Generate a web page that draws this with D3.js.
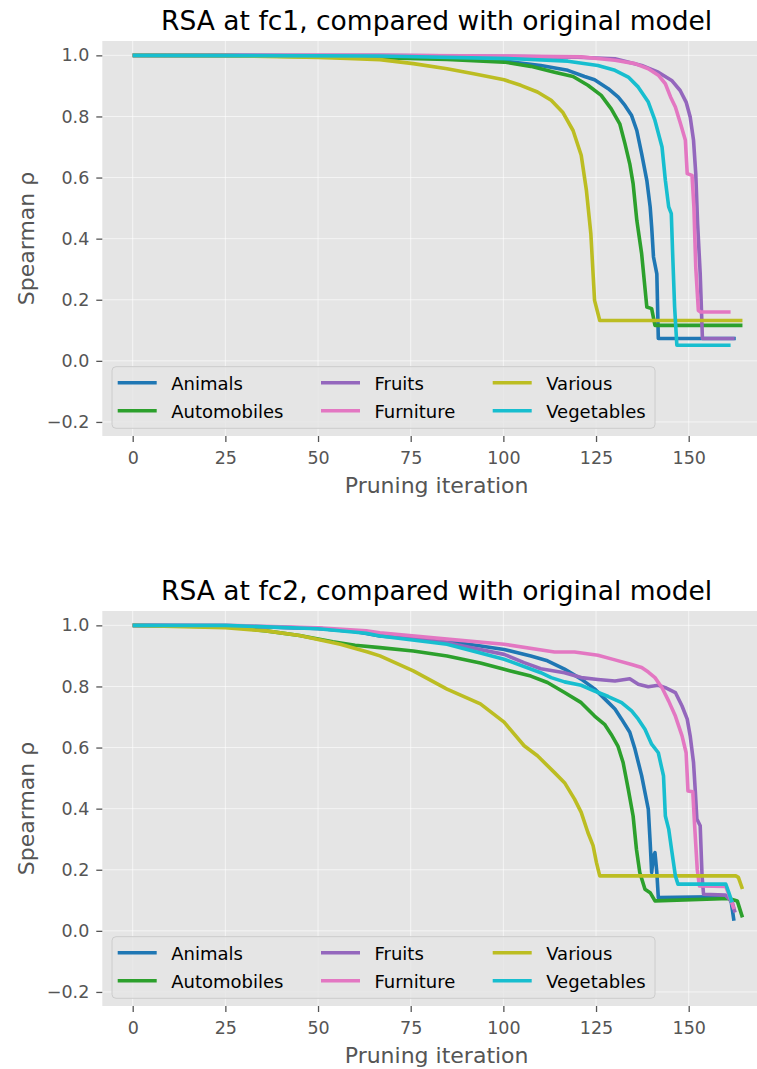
<!DOCTYPE html>
<html>
<head>
<meta charset="utf-8">
<script src="https://cdn.jsdelivr.net/npm/d3@7"></script>
<style>
  body { margin: 0; background: #fff; }
  svg { display: block; font-family: "DejaVu Sans", sans-serif; }
</style>
</head>
<body>
<svg id="chart" width="757" height="1069"></svg>
<script>
// series names, in plotting order (same as legend order)
var categories = ["Animals", "Automobiles", "Fruits", "Furniture", "Various", "Vegetables"];
var colors = ["#1f77b4", "#2ca02c", "#9467bd", "#e377c2", "#bcbd22", "#17becf"];
var xTicks = [0, 25, 50, 75, 100, 125, 150];
var yTicks = [-0.2, 0, 0.2, 0.4, 0.6, 0.8, 1.0];

// fc1: [pruning iteration, spearman rho]
var fc1Animals = [[0,1],[25,1],[50,0.998],[66.7,0.995],[85,0.99],[100.2,0.981],[110.1,0.967],[117.4,0.951],[121.9,0.931],[124.6,0.92],[128.3,0.891],[131,0.863],[132.8,0.836],[134.6,0.803],[136,0.754],[137.3,0.678],[138.7,0.591],[139.6,0.504],[140,0.439],[140.5,0.34],[141.4,0.285],[141.8,0.073],[162.7,0.073]];
var fc1Automobiles = [[0,1],[25,0.999],[50,0.996],[66.7,0.992],[84.8,0.987],[100.2,0.978],[107.4,0.964],[113.8,0.945],[118.8,0.931],[122.8,0.902],[126.4,0.869],[129.1,0.825],[131.4,0.776],[132.8,0.711],[134.1,0.645],[135,0.58],[136,0.46],[137.3,0.351],[138.7,0.176],[140,0.171],[140.9,0.116],[164.5,0.116]];
var fc1Fruits = [[0,1],[66.7,1],[100,0.997],[120,0.994],[130.1,0.989],[137.3,0.967],[141.8,0.945],[145.4,0.918],[147.7,0.885],[149.3,0.847],[150.4,0.798],[151.3,0.722],[151.9,0.613],[152.4,0.449],[153.1,0.285],[153.7,0.073],[162.4,0.073]];
var fc1Furniture = [[0,1],[66.7,1],[100,0.998],[121,0.995],[130.1,0.984],[135.5,0.973],[139.1,0.956],[141.8,0.935],[143.7,0.907],[145.1,0.864],[146.4,0.831],[147.8,0.776],[149.1,0.722],[149.6,0.613],[150.9,0.607],[151.4,0.504],[151.9,0.307],[152.6,0.165],[153.2,0.16],[161.3,0.16]];
var fc1Various = [[0,1],[25,0.999],[40,0.996],[50,0.993],[58,0.99],[66.7,0.986],[75.7,0.973],[84.8,0.956],[92,0.94],[100.2,0.92],[104.7,0.902],[109.2,0.88],[112.9,0.853],[116,0.814],[118.8,0.754],[121,0.673],[122.4,0.558],[123.6,0.416],[124.6,0.198],[126,0.132],[164.5,0.132]];
var fc1Vegetables = [[0,1],[66.7,0.998],[102.9,0.989],[117.4,0.981],[125.5,0.967],[130.1,0.951],[133.7,0.929],[136.4,0.896],[139.1,0.847],[140.9,0.787],[142.8,0.7],[143.7,0.591],[144.6,0.504],[145.3,0.482],[145.7,0.34],[146.2,0.176],[146.8,0.051],[161.3,0.051]];

// fc2
var fc2Animals = [[0,1],[25,0.998],[50,0.99],[60,0.98],[66.7,0.965],[84.8,0.949],[100.2,0.921],[107.4,0.9],[111.9,0.884],[116.5,0.857],[121,0.824],[124.6,0.792],[128.3,0.748],[130.1,0.726],[131.9,0.693],[134.1,0.65],[135.5,0.595],[137.3,0.508],[139.1,0.398],[139.6,0.29],[140,0.191],[140.5,0.245],[140.9,0.256],[141.4,0.191],[141.8,0.109],[160.8,0.112],[161.5,0.092],[162.2,0.033]];
var fc2Automobiles = [[0,1],[25,0.996],[36,0.982],[45,0.967],[54,0.946],[60,0.935],[66.7,0.927],[75.7,0.916],[84.8,0.9],[93.8,0.877],[100.2,0.856],[107.4,0.834],[111.9,0.813],[116.5,0.78],[121,0.747],[124.6,0.703],[127.3,0.676],[129.1,0.643],[130.9,0.605],[132.3,0.551],[133.7,0.463],[135,0.376],[135.9,0.267],[136.8,0.191],[138.2,0.136],[139.6,0.125],[140.9,0.098],[160.8,0.106],[163.1,0.098],[164.5,0.044]];
var fc2Fruits = [[0,1],[25,0.999],[50,0.99],[60,0.98],[66.7,0.971],[84.8,0.943],[100.2,0.905],[105.6,0.878],[110.1,0.858],[116.5,0.845],[121,0.829],[125.5,0.823],[130.1,0.818],[134.1,0.825],[136.4,0.807],[139.1,0.799],[141.8,0.804],[143.7,0.796],[146.4,0.78],[148.2,0.736],[149.6,0.693],[150.4,0.638],[151.3,0.551],[151.8,0.453],[152.2,0.366],[153.1,0.344],[153.6,0.18],[154,0.12],[159.9,0.117],[161.7,0.095],[162.5,0.06]];
var fc2Furniture = [[0,1],[25,1],[50,0.992],[63,0.982],[66.7,0.976],[84.8,0.955],[100.2,0.938],[113.8,0.913],[119.2,0.913],[125.5,0.902],[130.1,0.887],[134.6,0.872],[137.3,0.862],[139.1,0.847],[140.9,0.829],[142.8,0.796],[144.6,0.752],[146.4,0.703],[148.2,0.638],[149.3,0.583],[149.8,0.458],[151.1,0.455],[151.6,0.344],[152.3,0.202],[152.9,0.147],[160,0.145],[161.3,0.104],[162.2,0.071]];
var fc2Various = [[0,1],[25,0.992],[36,0.982],[45,0.967],[50,0.954],[56,0.938],[63.4,0.913],[66.7,0.9],[75.7,0.851],[84.8,0.791],[93.8,0.743],[100.2,0.683],[105.6,0.606],[109.2,0.573],[113.8,0.518],[116.5,0.485],[119.2,0.431],[121,0.388],[122.8,0.322],[124.2,0.279],[125.1,0.224],[126,0.18],[162.7,0.18],[163.4,0.175],[164.5,0.137]];
var fc2Vegetables = [[0,1],[25,1],[50,0.989],[63,0.974],[66.7,0.965],[84.8,0.938],[100.2,0.889],[110.1,0.845],[112.9,0.829],[116.5,0.815],[121,0.804],[124.6,0.785],[128.3,0.767],[131.9,0.747],[134.6,0.72],[136.4,0.693],[138.2,0.66],[140,0.611],[141.8,0.583],[143.2,0.507],[143.7,0.376],[144.6,0.333],[145.5,0.256],[146.4,0.18],[147.1,0.153],[160,0.153],[160.8,0.126],[161.7,0.093]];

var panels = [
  {title: "RSA at fc1, compared with original model", top: 0,
   series: [fc1Animals, fc1Automobiles, fc1Fruits, fc1Furniture, fc1Various, fc1Vegetables]},
  {title: "RSA at fc2, compared with original model", top: 570,
   series: [fc2Animals, fc2Automobiles, fc2Fruits, fc2Furniture, fc2Various, fc2Vegetables]}
];

var svg = d3.select("#chart");
// the figure is a bit wider than the picture, the right side is cut off
var left = 102.3, right = 771, plotTop = 41, plotBottom = 436;

var x = d3.scaleLinear().domain([-8.2, 172.2]).range([left, right]);
var y = d3.scaleLinear().domain([-0.246, 1.047]).range([plotBottom, plotTop]);

var line = d3.line().x(function(d){ return x(d[0]); }).y(function(d){ return y(d[1]); });

panels.forEach(function(p) {
  var g = svg.append("g").attr("transform", "translate(0," + p.top + ")");

  g.append("rect").attr("x", left).attr("y", plotTop)
    .attr("width", right - left).attr("height", plotBottom - plotTop)
    .attr("fill", "#e5e5e5");

  // grid
  g.selectAll(".vgrid").data(xTicks).enter().append("line")
    .attr("x1", x).attr("x2", x).attr("y1", plotTop).attr("y2", plotBottom)
    .attr("stroke", "#fff").attr("stroke-width", 1).attr("stroke-opacity", 0.6);
  g.selectAll(".hgrid").data(yTicks).enter().append("line")
    .attr("y1", y).attr("y2", y).attr("x1", left).attr("x2", right)
    .attr("stroke", "#fff").attr("stroke-width", 1).attr("stroke-opacity", 0.6);

  // axes
  var xa = g.append("g").attr("transform", "translate(0," + plotBottom + ")")
    .call(d3.axisBottom(x).tickValues(xTicks).tickSize(6).tickPadding(10));
  var ya = g.append("g").attr("transform", "translate(" + left + ",0)")
    .call(d3.axisLeft(y).tickValues(yTicks).tickSize(6).tickPadding(7).tickFormat(d3.format(".1f")));
  [xa, ya].forEach(function(a) {
    a.select(".domain").remove();
    a.selectAll("line").attr("stroke", "#555").attr("stroke-width", 1.3);
    a.selectAll("text").attr("fill", "#555").style("font-size", "17.5px")
      .style("font-family", "DejaVu Sans");
  });

  // lines
  p.series.forEach(function(s, i) {
    g.append("path").datum(s).attr("d", line)
      .attr("fill", "none").attr("stroke", colors[i]).attr("stroke-width", 3.6)
      .attr("stroke-linejoin", "round").attr("stroke-linecap", "butt");
  });

  // title + labels
  var cx = (left + right) / 2;
  g.append("text").attr("x", cx).attr("y", 30).attr("text-anchor", "middle")
    .style("font-size", "26.5px").attr("fill", "#000").text(p.title);
  g.append("text").attr("x", cx).attr("y", 493).attr("text-anchor", "middle")
    .style("font-size", "22px").attr("fill", "#555").text("Pruning iteration");
  g.append("text").attr("transform", "translate(34," + ((plotTop + plotBottom) / 2) + ") rotate(-90)")
    .attr("text-anchor", "middle").style("font-size", "22px").attr("fill", "#555").text("Spearman ρ");

  // legend, 3 columns x 2 rows
  var lg = g.append("g");
  lg.append("rect").attr("x", 112).attr("y", 366.7).attr("width", 543).attr("height", 61.6)
    .attr("rx", 4).attr("fill", "#e5e5e5").attr("fill-opacity", 0.8)
    .attr("stroke", "#cccccc").attr("stroke-width", 1);
  var colX = [117.7, 321, 492.7];
  var rowY = [382.7, 410.7];
  categories.forEach(function(c, i) {
    var col = Math.floor(i / 2), row = i % 2;
    lg.append("line").attr("x1", colX[col]).attr("x2", colX[col] + 39)
      .attr("y1", rowY[row]).attr("y2", rowY[row])
      .attr("stroke", colors[i]).attr("stroke-width", 3.6);
    lg.append("text").attr("x", colX[col] + 53.5).attr("y", rowY[row] + 6.8)
      .style("font-size", "18px").attr("fill", "#000").text(c);
  });
});
</script>
</body>
</html>
